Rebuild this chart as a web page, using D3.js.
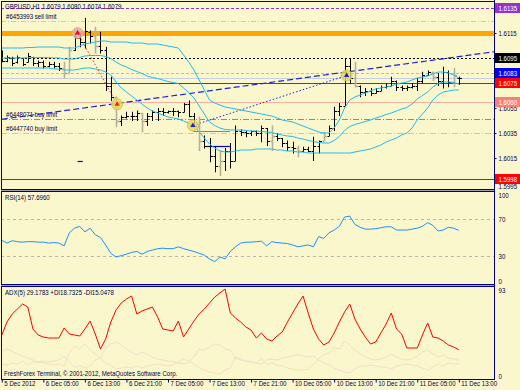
<!DOCTYPE html>
<html>
<head>
<meta charset="utf-8">
<script src="https://cdn.jsdelivr.net/npm/d3@7"></script>
<style>
  body { margin: 0; background: #f9f7cb; }
  svg text { font-family: "Liberation Sans", Arial, sans-serif; font-size: 7px; }
</style>
</head>
<body>
<svg id="chart" width="520" height="390"></svg>
<script>
// ---- data ----
const timeLabels = ["5 Dec 2012", "6 Dec 05:00", "6 Dec 13:00", "6 Dec 21:00", "7 Dec 05:00", "7 Dec 13:00",
  "7 Dec 21:00", "10 Dec 05:00", "10 Dec 13:00", "10 Dec 21:00", "11 Dec 05:00", "11 Dec 13:00"];

const high = [1.6101,1.6097,1.6096,1.6097,1.6095,1.6099,1.6096,1.6093,1.6093,1.6092,1.6092,1.6091,1.6092,1.6104,1.6115,1.6115,
  1.6127,1.6117,1.6120,1.6116,1.6104,1.6080,1.6064,1.6049,1.6052,1.6052,1.6053,1.6051,1.6051,1.6053,1.6055,1.6055,
  1.6053,1.6055,1.6053,1.6059,1.6061,1.6051,1.6048,1.6033,1.6031,1.6024,1.6021,1.6023,1.6027,1.6041,1.6038,1.6037,
  1.6037,1.6037,1.6041,1.6039,1.6041,1.6035,1.6031,1.6029,1.6028,1.6025,1.6024,1.6024,1.6032,1.6029,1.6036,1.6041,
  1.6056,1.6059,1.6095,1.6095,1.6092,1.6073,1.6071,1.6071,1.6071,1.6073,1.6075,1.6080,1.6077,1.6073,1.6073,1.6075,
  1.6079,1.6084,1.6085,1.6084,1.6083,1.6088,1.6085,1.6087,1.6080];
const low = [1.6092,1.6092,1.6089,1.6091,1.6089,1.6092,1.6089,1.6088,1.6087,1.6088,1.6087,1.6085,1.6079,1.6083,1.6101,1.6104,
  1.6103,1.6107,1.6099,1.6099,1.6069,1.6061,1.6040,1.6041,1.6047,1.6045,1.6045,1.6036,1.6041,1.6045,1.6045,1.6049,
  1.6051,1.6049,1.6048,1.6052,1.6048,1.6040,1.6021,1.6023,1.6012,1.6004,1.6001,1.6005,1.6007,1.6013,1.6033,1.6032,
  1.6033,1.6033,1.6028,1.6025,1.6021,1.6029,1.6024,1.6021,1.6019,1.6016,1.6020,1.6020,1.6013,1.6019,1.6029,1.6033,
  1.6037,1.6049,1.6057,1.6075,1.6072,1.6064,1.6065,1.6065,1.6067,1.6069,1.6071,1.6073,1.6069,1.6069,1.6069,1.6071,
  1.6069,1.6075,1.6081,1.6077,1.6073,1.6071,1.6072,1.6072,1.6074];
const open = [1.6097,1.6093,1.6095,1.6092,1.6095,1.6092,1.6096,1.6091,1.6092,1.6089,1.6090,1.6089,1.6087,1.6083,1.6101,1.6111,
  1.6108,1.6116,1.6113,1.6105,1.6101,1.6073,1.6064,1.6045,1.6048,1.6049,1.6049,1.6051,1.6045,1.6049,1.6052,1.6053,
  1.6052,1.6053,1.6053,1.6052,1.6058,1.6049,1.6041,1.6029,1.6025,1.6017,1.6009,1.6013,1.6021,1.6013,1.6037,1.6036,
  1.6035,1.6037,1.6035,1.6039,1.6029,1.6033,1.6031,1.6027,1.6024,1.6023,1.6021,1.6022,1.6021,1.6025,1.6029,1.6033,
  1.6039,1.6053,1.6057,1.6089,1.6079,1.6073,1.6068,1.6069,1.6067,1.6069,1.6072,1.6073,1.6077,1.6072,1.6071,1.6072,
  1.6073,1.6077,1.6081,1.6084,1.6080,1.6077,1.6084,1.6076,1.6079];
const close = [1.6093,1.6096,1.6091,1.6096,1.6090,1.6097,1.6091,1.6092,1.6089,1.6090,1.6089,1.6087,1.6083,1.6101,1.6111,1.6108,
  1.6117,1.6113,1.6105,1.6101,1.6073,1.6064,1.6045,1.6048,1.6049,1.6049,1.6051,1.6045,1.6049,1.6052,1.6053,1.6052,
  1.6053,1.6053,1.6052,1.6058,1.6049,1.6041,1.6029,1.6025,1.6017,1.6009,1.6013,1.6021,1.6013,1.6037,1.6036,1.6035,
  1.6037,1.6035,1.6039,1.6029,1.6033,1.6031,1.6027,1.6024,1.6023,1.6021,1.6022,1.6021,1.6025,1.6029,1.6033,1.6039,
  1.6053,1.6057,1.6089,1.6079,1.6073,1.6068,1.6069,1.6067,1.6069,1.6072,1.6073,1.6077,1.6072,1.6071,1.6072,1.6073,
  1.6077,1.6081,1.6084,1.6080,1.6077,1.6084,1.6076,1.6081,1.6079];
const greyBars = [12, 13, 18, 22, 27, 38, 42, 52, 57, 62, 68, 83, 87];

// Bollinger bands
const bbUpper = [1.6103,1.6103,1.6103,1.6103,1.6103,1.61034,1.61034,1.61038,1.61038,1.61038,1.61038,1.61038,1.6103,1.6103,1.6103,1.61046,
  1.61062,1.6107,1.61078,1.61086,1.61086,1.61078,1.61078,1.61078,1.61078,1.6107,1.6107,1.6107,1.61062,1.61062,1.61062,1.61054,
  1.61046,1.61038,1.6103,1.60974,1.60918,1.60854,1.60774,1.60694,1.60614,1.6059,1.60574,1.60558,1.6055,1.60542,1.60534,1.60526,
  1.60518,1.6051,1.60502,1.60494,1.60486,1.6047,1.60454,1.60446,1.60438,1.60422,1.60406,1.6039,1.60374,1.60358,1.6035,1.6035,
  1.6039,1.60454,1.6055,1.60614,1.60638,1.60654,1.6067,1.60686,1.60702,1.6071,1.60718,1.60726,1.60742,1.6075,1.60758,1.60774,
  1.6079,1.60798,1.60806,1.60822,1.60838,1.60838,1.6083,1.60814,1.6079];
const bbMiddle = [1.6095,1.6095,1.6095,1.6095,1.6095,1.60952,1.60952,1.60954,1.60954,1.60954,1.6095,1.6095,1.60942,1.60942,1.60942,1.60954,
  1.60966,1.6097,1.6097,1.6097,1.60962,1.60946,1.60918,1.60894,1.60878,1.60858,1.60842,1.60826,1.60806,1.60794,1.60786,1.60774,
  1.60762,1.60754,1.60746,1.6071,1.60674,1.6063,1.60566,1.60502,1.60438,1.6041,1.6039,1.60378,1.60374,1.60374,1.60374,1.6037,
  1.60366,1.60366,1.60362,1.60358,1.60354,1.60342,1.60334,1.60326,1.60322,1.6031,1.60302,1.6029,1.60282,1.60274,1.6027,1.6027,
  1.6029,1.60322,1.6037,1.60402,1.60418,1.6043,1.60442,1.60454,1.6047,1.60482,1.60498,1.6051,1.60526,1.60542,1.60554,1.60582,
  1.60622,1.6065,1.60678,1.60718,1.60746,1.60758,1.60758,1.60754,1.60742];
const bbLower = [1.6087,1.6087,1.6087,1.6087,1.6087,1.6087,1.6087,1.6087,1.6087,1.6087,1.60862,1.60862,1.60854,1.60854,1.60854,1.60862,
  1.6087,1.6087,1.60862,1.60854,1.60838,1.60814,1.60758,1.6071,1.60678,1.60646,1.60614,1.60582,1.6055,1.60526,1.6051,1.60494,
  1.60478,1.6047,1.60462,1.60446,1.6043,1.60406,1.60358,1.6031,1.60262,1.6023,1.60206,1.60198,1.60198,1.60206,1.60214,1.60214,
  1.60214,1.60222,1.60222,1.60222,1.60222,1.60214,1.60214,1.60206,1.60206,1.60198,1.60198,1.6019,1.6019,1.6019,1.6019,1.6019,
  1.6019,1.6019,1.6019,1.6019,1.60198,1.60206,1.60214,1.60222,1.60238,1.60254,1.60278,1.60294,1.6031,1.60334,1.6035,1.6039,
  1.60454,1.60502,1.6055,1.60614,1.60654,1.60678,1.60686,1.60694,1.60694];

const rsi = [47,44,46.5,45.5,45,45.5,45.5,45,45,44,44.5,44,41,55,60,62,56,60,53,50,42,33,29,30.5,32,34,35,32,35,36.5,38,38.5,
  38,38,40,38,36.5,35,33,31,27,24,29,27,35,40,44,45,45,45.5,46,41,45.5,44.5,44,43.5,42,40,41,42,40,51,49,55,58,62,
  72,73,64,61,59,59,59.5,60.5,61.5,61.5,58,58,58,59,60,62,66,63,57,58,61,60,57.7];
const adx = [44,57,65,70,75,72,50,44,42,41,41,41,51,45,44,43,50,58,45,30,40,57,69,76,80,83,65,68,70,72,62,50,
  49,48,58,42,50,58,65,70,76,82,86,90,66,61,57,52,49,41,46,40,38,43,47,57,66,75,83,66,50,40,
  34,37,46,57,67,75,60,50,42,35,37,46,55,66,50,45,31,31,31,44,56,42,41,38,34,32,29.2];
const plusDI = [28,30,28,25,23,21,19,17,16,15,14,15,13,26,33,30,35,29,25,21,16,13,10,11,12,11,13,11,13,14,15,14,
  13,14,17,20,18,15,11,9,7,6,5,9,11,22,20,18,17,16,20,15,16,14,13,11,10,9,9,10,15,20,
  24,26,31,30,38,34,29,25,22,20,19,20,22,25,22,20,19,20,23,27,29,25,22,24,21,20,18.7];
const minusDI = [15,14,16,15,18,14,17,17,18,17,18,19,23,17,12,13,11,13,19,21,31,35,37,34,30,27,24,27,25,22,20,19,
  18,17,16,15,17,22,30,29,32,35,34,30,29,21,19,18,17,16,15,19,20,19,21,22,23,24,23,22,23,19,
  16,14,11,9,7,6,10,13,13,14,13,12,12,10,13,14,15,14,13,11,9,12,15,13,16,15,15.05];

const priceTicks = [1.6115, 1.6055, 1.6035, 1.6015, 1.5995];
const levels = [
  { price: 1.6135, color: "#9932cc", dash: "3,2", width: 1, box: "#9932cc" },
  { price: 1.6125, color: "#a8e09a", dash: "5,2,1,2", width: 1, box: null },
  { price: 1.6115, color: "#ffa500", dash: null, width: 5, box: null },
  { price: 1.6095, color: "#000000", dash: "2,2", width: 1, box: "#000000" },
  { price: 1.6083, color: "#b8b0e8", dash: "3,2", width: 1, box: "#0000ff" },
  { price: 1.6079, color: "#c8d0e0", dash: null, width: 1, box: null },
  { price: 1.6075, color: "#ff0000", dash: null, width: 1, box: "#ff0000" },
  { price: 1.6060, color: "#f4b0a0", dash: null, width: 1, box: "#fa8072" },
  { price: 1.6046, color: "#32cd32", dash: "6,2,1,2", width: 1, box: null },
  { price: 1.6035, color: "#a8e09a", dash: "6,2,1,2", width: 1, box: null },
  { price: 1.5998, color: "#ff0000", dash: null, width: 1, box: "#ff0000" }
];
const orderLabels = [
  { text: "#6453993 sell limit", price: 1.6125 },
  { text: "#6448071 buy limit", price: 1.6046 },
  { text: "#6447740 buy limit", price: 1.6035 }
];
const trendLine = [{ i: 0, p: 1.6046 }, { i: 94.8, p: 1.6100 }];
const sellTrade = [{ i: 14.6, p: 1.6115 }, { i: 22.2, p: 1.6058 }];
const buyTrade = [{ i: 36.8, p: 1.6041 }, { i: 66.4, p: 1.6081 }];
const segments = [
  { from: 36.8, to: 43.9, p: 1.6037, color: "#7878e8" },
  { from: 39.3, to: 43.9, p: 1.6025, color: "#0000c8" },
  { from: 14.6, to: 15.6, p: 1.6013, color: "#0000e0" }
];

// ---- layout ----
const svg = d3.select("#chart");
const W = 520, H = 390;
const left = 1, right = 494;
const main = { top: 1, bottom: 189 };
const rsiP = { top: 191, bottom: 284 };
const adxP = { top: 286, bottom: 379 };
const navy = "#000080";
const textCol = "#000050";
const SQ = 0.87;

function squeeze(sel) {
  sel.each(function () {
    const w = this.getComputedTextLength();
    d3.select(this).attr("textLength", w * SQ).attr("lengthAdjust", "spacingAndGlyphs");
  });
}

svg.append("rect").attr("width", W).attr("height", H).attr("fill", "#f9f7cb");

const x = d3.scaleLinear().domain([0, 88]).range([1.8, 458.8]);
const y = d3.scaleLinear().domain([1.59902, 1.61406]).range([main.bottom, main.top]);
const yR = d3.scaleLinear().domain([0, 100]).range([rsiP.bottom, rsiP.top]);
const yA = d3.scaleLinear().domain([0, 93]).range([adxP.bottom, adxP.top]);

svg.append("clipPath").attr("id", "cm").append("rect")
  .attr("x", left).attr("y", main.top).attr("width", right - left).attr("height", main.bottom - main.top);
const gm = svg.append("g").attr("clip-path", "url(#cm)");

// horizontal level lines
levels.forEach(l => {
  gm.append("line").attr("x1", left).attr("x2", right)
    .attr("y1", Math.round(y(l.price)) + 0.5).attr("y2", Math.round(y(l.price)) + 0.5)
    .attr("stroke", l.color).attr("stroke-width", l.width)
    .attr("stroke-dasharray", l.dash);
});

// order labels
orderLabels.forEach(o => {
  gm.append("text").attr("x", 6).attr("y", y(o.price) - 2).attr("fill", textCol).text(o.text).call(squeeze);
});

// short horizontal segments
segments.forEach(s => {
  gm.append("line").attr("x1", x(s.from)).attr("x2", x(s.to))
    .attr("y1", Math.round(y(s.p)) + 0.5).attr("y2", Math.round(y(s.p)) + 0.5)
    .attr("stroke", s.color).attr("stroke-width", 1.2);
});

// trend line
gm.append("line")
  .attr("x1", x(trendLine[0].i)).attr("y1", y(trendLine[0].p))
  .attr("x2", x(trendLine[1].i)).attr("y2", y(trendLine[1].p))
  .attr("stroke", "#2020e0").attr("stroke-width", 1.2).attr("stroke-dasharray", "6,3");

// closed trades
gm.append("line")
  .attr("x1", x(sellTrade[0].i)).attr("y1", y(sellTrade[0].p))
  .attr("x2", x(sellTrade[1].i)).attr("y2", y(sellTrade[1].p))
  .attr("stroke", "#ff2020").attr("stroke-dasharray", "1.5,2");
gm.append("line")
  .attr("x1", x(buyTrade[0].i)).attr("y1", y(buyTrade[0].p))
  .attr("x2", x(buyTrade[1].i)).attr("y2", y(buyTrade[1].p))
  .attr("stroke", "#2020e0").attr("stroke-dasharray", "1.5,2");

// bars
const bars = gm.append("g");
d3.range(high.length).forEach(i => {
  const grey = greyBars.includes(i);
  const g = bars.append("g").attr("stroke", grey ? "#b4b29c" : "#000000").attr("stroke-width", grey ? 1.6 : 1);
  const cx = Math.round(x(i)) + 0.5;
  g.append("line").attr("x1", cx).attr("x2", cx).attr("y1", y(high[i])).attr("y2", y(low[i]) + 0.5);
  g.append("line").attr("x1", cx - 2).attr("x2", cx).attr("y1", Math.round(y(open[i])) + 0.5).attr("y2", Math.round(y(open[i])) + 0.5);
  g.append("line").attr("x1", cx).attr("x2", cx + 2.5).attr("y1", Math.round(y(close[i])) + 0.5).attr("y2", Math.round(y(close[i])) + 0.5);
});

// Bollinger bands
const bandLine = d3.line().x((d, i) => x(i)).y(d => y(d));
[bbUpper, bbMiddle, bbLower].forEach(b => {
  gm.append("path").datum(b).attr("d", bandLine)
    .attr("fill", "none").attr("stroke", "#22bbf0").attr("stroke-width", 1);
});

// trade markers
function marker(t, fill, arrow) {
  gm.append("circle").attr("cx", x(t.i)).attr("cy", y(t.p)).attr("r", 5.5)
    .attr("fill", fill).attr("fill-opacity", 0.85).attr("stroke", "#d8c040").attr("stroke-width", 0.8);
  gm.append("path").attr("d", d3.symbol(d3.symbolTriangle, 12)())
    .attr("transform", `translate(${x(t.i)},${y(t.p)})`).attr("fill", arrow);
}
marker(sellTrade[0], "#e8a0c8", "#ff0000");
marker(sellTrade[1], "#e8d860", "#ff2020");
marker(buyTrade[0], "#e8d860", "#2020e0");
marker(buyTrade[1], "#e8d860", "#2020e0");

// header
svg.append("text").attr("x", 5).attr("y", 9).attr("fill", textCol)
  .text("GBPUSD,H1  1.6079 1.6080 1.6074 1.6079").call(squeeze);

// RSI panel
[70, 30].forEach(v => {
  svg.append("line").attr("x1", left).attr("x2", right).attr("y1", Math.round(yR(v)) + 0.5).attr("y2", Math.round(yR(v)) + 0.5)
    .attr("stroke", "#b8b8a8").attr("stroke-dasharray", "3,3");
});
svg.append("path").datum(rsi)
  .attr("d", d3.line().x((d, i) => x(i)).y(d => yR(d)))
  .attr("fill", "none").attr("stroke", "#1e90ff").attr("stroke-width", 1);
svg.append("text").attr("x", 5).attr("y", 200).attr("fill", textCol).text("RSI(14) 57.6960").call(squeeze);

// ADX panel
const adxLine = d3.line().x((d, i) => x(i)).y(d => yA(d));
svg.append("path").datum(plusDI).attr("d", adxLine)
  .attr("fill", "none").attr("stroke", "#f4e0c0").attr("stroke-width", 1);
svg.append("path").datum(minusDI).attr("d", adxLine)
  .attr("fill", "none").attr("stroke", "#f3dccf").attr("stroke-width", 1);
svg.append("path").datum(adx).attr("d", adxLine)
  .attr("fill", "none").attr("stroke", "#ff0000").attr("stroke-width", 1);
svg.append("text").attr("x", 5).attr("y", 295).attr("fill", textCol)
  .text("ADX(5) 29.1783 +DI18.7325 -DI15.0478").call(squeeze);
svg.append("text").attr("x", 4).attr("y", 376).attr("fill", textCol)
  .text("FreshForex Terminal, \u00a9 2001-2012, MetaQuotes Software Corp.").call(squeeze);

// panel borders
[main, rsiP, adxP].forEach(p => {
  svg.append("rect").attr("x", left + 0.5).attr("y", p.top + 0.5)
    .attr("width", right - left).attr("height", p.bottom - p.top)
    .attr("fill", "none").attr("stroke", navy);
});
svg.append("line").attr("x1", left).attr("x2", right).attr("y1", 190.5).attr("y2", 190.5).attr("stroke", "#a0a0b8");
svg.append("line").attr("x1", left).attr("x2", right).attr("y1", 285.5).attr("y2", 285.5).attr("stroke", "#a0a0b8");

// price axis
const ya = svg.append("g").attr("transform", `translate(${right + 0.5},0)`)
  .call(d3.axisRight(y).tickValues(priceTicks).tickSize(2).tickFormat(d3.format(".4f")));
ya.select(".domain").remove();
ya.selectAll("line").attr("stroke", navy);
ya.selectAll("text").attr("fill", textCol).attr("x", 4)
  .attr("dy", d => d === 1.5995 ? "0.75em" : "0.32em")
  .style("font-size", "7px").style("font-family", "Liberation Sans, Arial").call(squeeze);

// level price boxes
levels.filter(l => l.box).forEach(l => {
  const yy = Math.round(y(l.price));
  svg.append("rect").attr("x", 495).attr("y", yy - 5).attr("width", 25).attr("height", 10).attr("fill", l.box);
  svg.append("text").attr("x", 498.5).attr("y", yy + 2.5).attr("fill", "#ffffff")
    .text(d3.format(".4f")(l.price)).call(squeeze);
});

// RSI / ADX axes
const ra = svg.append("g").attr("transform", `translate(${right + 0.5},0)`)
  .call(d3.axisRight(yR).tickValues([100, 70, 30, 0]).tickSize(0));
ra.select(".domain").remove();
ra.selectAll("text").attr("fill", textCol).attr("x", 4)
  .attr("dy", (d) => d === 100 ? "0.9em" : d === 0 ? "-0.1em" : "0.32em")
  .style("font-size", "7px").style("font-family", "Liberation Sans, Arial").call(squeeze);
const aa = svg.append("g").attr("transform", `translate(${right + 0.5},0)`)
  .call(d3.axisRight(yA).tickValues([93, 0]).tickSize(0));
aa.select(".domain").remove();
aa.selectAll("text").attr("fill", textCol).attr("x", 4)
  .attr("dy", (d) => d === 93 ? "0.9em" : "-0.1em")
  .style("font-size", "7px").style("font-family", "Liberation Sans, Arial").call(squeeze);

svg.append("line").attr("x1", right + 0.5).attr("x2", right + 0.5).attr("y1", 0).attr("y2", adxP.bottom + 1)
  .attr("stroke", navy);

// time axis
const tickIdx = timeLabels.map((d, k) => k * 8);
const xa = svg.append("g").attr("transform", `translate(0,${adxP.bottom + 0.5})`)
  .call(d3.axisBottom(x).tickValues(tickIdx).tickSize(3).tickFormat((d, k) => timeLabels[k]));
xa.select(".domain").remove();
xa.selectAll("line").attr("stroke", navy);
xa.selectAll("text").attr("fill", textCol).attr("text-anchor", "start").attr("x", 2).attr("y", 2).attr("dy", "0.71em")
  .style("font-size", "7px").style("font-family", "Liberation Sans, Arial").call(squeeze);
</script>
</body>
</html>
